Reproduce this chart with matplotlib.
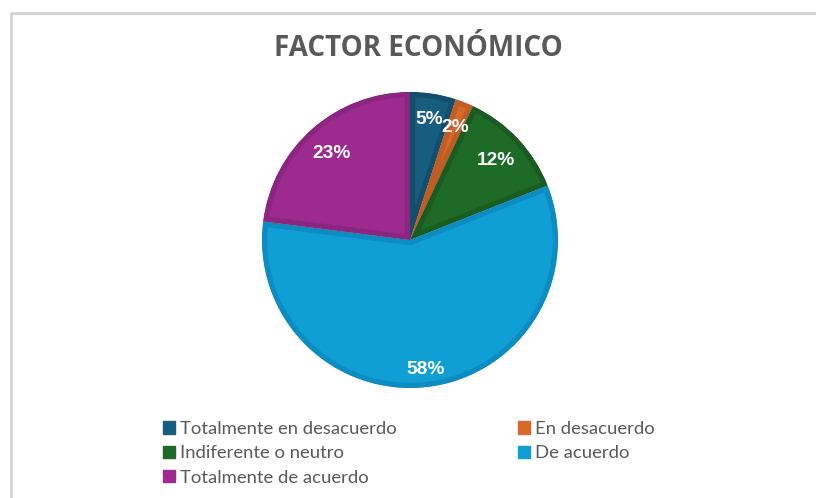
import numpy as np
import matplotlib
matplotlib.use("Agg")
import matplotlib.pyplot as plt
from matplotlib.patches import Patch

# ---------- data ----------
categories = ["Totalmente en desacuerdo", "En desacuerdo", "Indiferente o neutro",
              "De acuerdo", "Totalmente de acuerdo"]
values = [5, 2, 12, 58, 23]
fills = ["#175d7f", "#d9692b", "#1e6b27", "#109fd5", "#9d2a8f"]
edges = ["#134e6c", "#c25c25", "#195b21", "#0c8cc0", "#8a2580"]
title = "FACTOR ECONÓMICO"
label_dist = [0.84, 0.83, 0.80, 0.865, 0.80]   # radial position of each % label

W, H = 816, 498
fig = plt.figure(figsize=(W/100, H/100), dpi=100)
fig.patch.set_facecolor("white")

# light frame (top + left visible)
fr = fig.add_axes([0, 0, 1, 1]); fr.set_xlim(0, W); fr.set_ylim(H, 0); fr.axis("off")
fr.plot([10.5, 10.5, W], [H, 12.5, 12.5], color="#d4d4d4", lw=2, solid_capstyle="butt")

# pie: centre (410,240) px, radius 148 px
cx, cy, R, pad = 410, 240, 148, 1.05
ax = fig.add_axes([(cx - R*pad)/W, (H - cy - R*pad)/H, 2*R*pad/W, 2*R*pad/H])
wedges, texts, autotexts = ax.pie(values, colors=fills, startangle=90, counterclock=False,
                                  autopct="%1.0f%%", pctdistance=0.83, radius=1,
                                  textprops=dict(color="white", fontsize=13.8, fontweight="bold",
                                                 family=["Liberation Sans", "DejaVu Sans"]))
ax.set_xlim(-pad, pad); ax.set_ylim(-pad, pad); ax.axis("off")
for w, ec, t, d in zip(wedges, edges, autotexts, label_dist):
    w.set_edgecolor(ec)
    w.set_linewidth(7.5)
    w.set_clip_path(w)   # keep only inner half of the stroke
    w.set_clip_on(True)
    a = np.deg2rad((w.theta1 + w.theta2) / 2)
    t.set_position((d*np.cos(a), d*np.sin(a)))
    t.set_va("center_baseline")

fig.text(418/W, 1 - 48/H, title, ha="center", va="center", fontsize=20,
         fontweight="bold", color="#595959", family="Open Sans")

handles = [Patch(facecolor=c, edgecolor=c) for c in fills]
order = [0, 2, 4, 1, 3]
leg = fig.legend([handles[i] for i in order], [categories[i] for i in order], ncol=2,
                 loc="upper left", bbox_to_anchor=(163/W, 1 - 421/H), frameon=False,
                 handlelength=0.65, handleheight=0.65, handletextpad=0.25,
                 columnspacing=6.6, labelspacing=0.45, borderaxespad=0, borderpad=0,
                 prop=dict(family="Lato", size=13.3))
for t in leg.get_texts():
    t.set_color("#595959")

fig.savefig("out.png", dpi=100)
